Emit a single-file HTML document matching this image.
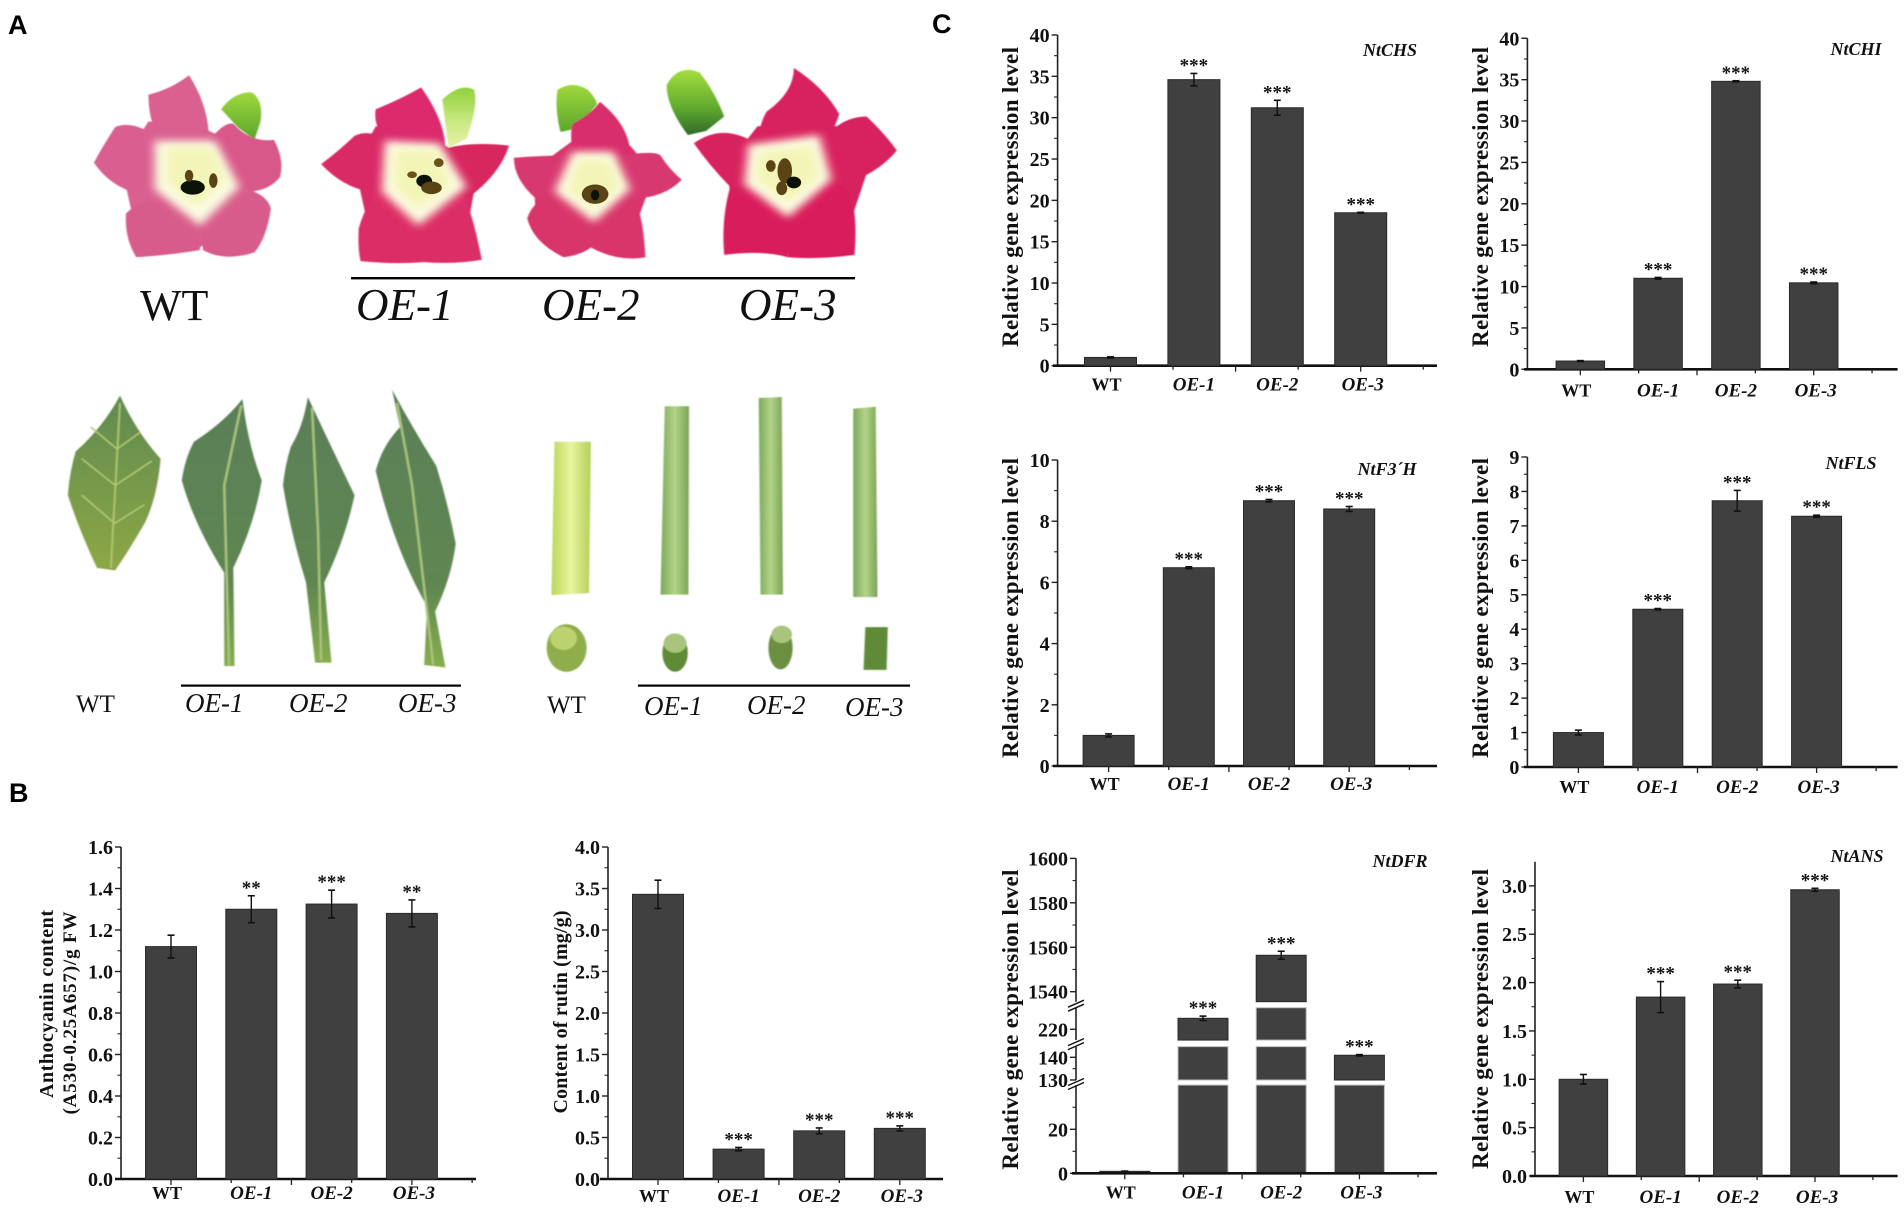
<!DOCTYPE html>
<html lang="en">
<head>
<meta charset="utf-8">
<title>Flower, leaf and stem phenotypes with flavonoid gene expression</title>
<style>
html,body{margin:0;padding:0;background:#fff;width:1904px;height:1208px;overflow:hidden}
svg{display:block}
text{font-family:"Liberation Serif",serif;fill:#111}
.panel{font-family:"Liberation Sans",sans-serif;font-weight:700;font-size:27px;fill:#000}
</style>
</head>
<body>
<svg id="figure" xmlns="http://www.w3.org/2000/svg" width="1904" height="1208" viewBox="0 0 1904 1208">
<defs>
<filter id="soft" x="-10%" y="-10%" width="120%" height="120%"><feGaussianBlur stdDeviation="1.2"/></filter>
<filter id="soft2" x="-30%" y="-30%" width="160%" height="160%"><feGaussianBlur stdDeviation="8"/></filter>
<linearGradient id="sepal" x1="0" y1="0" x2="0" y2="1"><stop offset="0" stop-color="#9fd83c"/><stop offset="1" stop-color="#5aa62c"/></linearGradient>
<linearGradient id="sepalpale" x1="0" y1="0" x2="0" y2="1"><stop offset="0" stop-color="#8fd03a"/><stop offset=".55" stop-color="#c8e880"/><stop offset="1" stop-color="#e8f2a8"/></linearGradient>
<linearGradient id="sepaldark" x1="0" y1="0" x2="0" y2="1"><stop offset="0" stop-color="#a4de3c"/><stop offset=".6" stop-color="#5ea82e"/><stop offset="1" stop-color="#2f6a2a"/></linearGradient>
<linearGradient id="leafwt" x1="0" y1="0" x2="0" y2="1"><stop offset="0" stop-color="#5f8a52"/><stop offset="1" stop-color="#8ca743"/></linearGradient>
<linearGradient id="leafoe" x1="0" y1="0" x2="0" y2="1"><stop offset="0" stop-color="#5a7f58"/><stop offset=".7" stop-color="#5f8651"/><stop offset="1" stop-color="#86ad4e"/></linearGradient>
<linearGradient id="stemoe" x1="0" y1="0" x2="1" y2="0"><stop offset="0" stop-color="#7da85a"/><stop offset=".5" stop-color="#b3d488"/><stop offset="1" stop-color="#7ba354"/></linearGradient>
<linearGradient id="stemwt" x1="0" y1="0" x2="1" y2="0"><stop offset="0" stop-color="#bcd65a"/><stop offset=".5" stop-color="#e9f5a0"/><stop offset="1" stop-color="#b4cf55"/></linearGradient>
</defs>

<text class="panel" x="8" y="34">A</text>
<text class="panel" x="9" y="802">B</text>
<text class="panel" x="932" y="33">C</text>

<g transform="scale(0.606,0.4854)">
  <g>
    <g filter="url(#soft)">
      <path d="M365 225Q385 190 415 190Q435 205 430 250L420 288L392 262Z" fill="url(#sepal)"/>
      <path d="M245 250L345 270L400 300L420 420L330 510L225 480L200 340Z" fill="#d9608f"/>
      <path d="M312 155Q345 220 345 290L270 300Q245 260 245 195Q280 185 312 155Z" fill="#d9608f"/>
      <path d="M270 290Q220 245 190 262Q170 300 155 335Q190 400 260 405Z" fill="#d95f90"/>
      <path d="M345 290Q370 250 385 255Q415 295 452 288Q470 330 462 365Q440 400 390 395Z" fill="#d9588a"/>
      <path d="M275 410Q230 410 208 440Q205 490 225 530Q285 525 330 515L330 465Z" fill="#d85c8b"/>
      <path d="M330 465L390 385Q440 395 447 430Q440 490 420 520Q370 540 335 515Z" fill="#d85c8b"/>
    </g>
    <path d="M255 290L355 290L395 385L330 465L255 390Z" fill="#fbfbe0" filter="url(#soft2)"/>
    <path d="M275 305L350 305L372 370L325 425L275 375Z" fill="#f3f5b8" filter="url(#soft2)"/>
    <ellipse cx="318" cy="386" rx="20" ry="15" fill="#0c1208"/>
    <ellipse cx="312" cy="362" rx="7" ry="12" fill="#5a4416"/>
    <ellipse cx="352" cy="372" rx="7" ry="15" fill="#5a4416"/>
  </g>
  <g>
    <g filter="url(#soft)">
      <path d="M730 205Q760 170 782 185Q790 215 770 285L740 305Z" fill="url(#sepalpale)"/>
      <path d="M620 260L735 300L790 340L770 480L700 535L610 480L585 340Z" fill="#da2a66"/>
      <path d="M695 180Q735 250 735 310L640 295Q615 260 620 225Q660 205 695 180Z" fill="#dc2c6c"/>
      <path d="M640 290Q610 265 585 280Q560 310 530 338Q565 385 610 395L640 370Z" fill="#d92a66"/>
      <path d="M725 310Q770 290 840 300Q825 360 770 410L745 360Z" fill="#d8265f"/>
      <path d="M640 390Q610 395 592 470Q590 510 595 538Q650 545 700 540L690 465Z" fill="#dc2e66"/>
      <path d="M690 465L760 400Q775 410 795 535Q750 545 700 540Z" fill="#dc2e66"/>
    </g>
    <path d="M635 290L725 295L770 385L690 465L630 395Z" fill="#fbfbe0" filter="url(#soft2)"/>
    <path d="M650 310L720 310L745 380L690 430L650 385Z" fill="#f3f5b8" filter="url(#soft2)"/>
    <ellipse cx="700" cy="373" rx="13" ry="13" fill="#0c1208"/>
    <ellipse cx="712" cy="387" rx="17" ry="13" fill="#5a4416"/>
    <ellipse cx="680" cy="360" rx="8" ry="7" fill="#6a5218"/>
    <ellipse cx="724" cy="335" rx="8" ry="9" fill="#6a5218"/>
  </g>
  <g>
    <g filter="url(#soft)">
      <path d="M920 185Q945 165 970 185Q985 205 985 215L950 265L925 272Q915 225 920 185Z" fill="url(#sepal)"/>
      <path d="M945 290L1040 300L1080 360L1050 460L975 505L885 470L880 350Z" fill="#d8346c"/>
      <path d="M990 210Q1040 260 1040 320L945 320Q940 270 945 255Q975 235 990 210Z" fill="#d82f6c"/>
      <path d="M945 320Q895 320 848 325Q848 370 885 410L925 395Z" fill="#d8386f"/>
      <path d="M1030 320Q1080 310 1090 320Q1105 350 1125 370Q1095 410 1035 410L1035 370Z" fill="#d8386f"/>
      <path d="M920 395Q880 410 870 450Q880 500 930 530Q960 525 975 510L980 455Z" fill="#d8346a"/>
      <path d="M980 455L1035 400Q1060 410 1065 530Q1020 540 975 510Z" fill="#d8346a"/>
    </g>
    <path d="M945 312L1012 312L1040 390L980 458L915 395Z" fill="#fbfbe0" filter="url(#soft2)"/>
    <path d="M955 330L1005 330L1022 385L980 430L935 390Z" fill="#f3f5b8" filter="url(#soft2)"/>
    <ellipse cx="982" cy="400" rx="22" ry="20" fill="#5a4416"/>
    <ellipse cx="982" cy="402" rx="7" ry="11" fill="#0c1208"/>
  </g>
  <g>
    <g filter="url(#soft)">
      <path d="M1100 175Q1120 130 1155 150Q1180 190 1195 240L1165 270L1135 278Q1100 220 1100 175Z" fill="url(#sepaldark)"/>
      <path d="M1250 260L1385 260L1440 320L1400 470L1300 520L1210 470L1200 340Z" fill="#d8225e"/>
      <path d="M1310 140Q1360 180 1385 235L1370 285L1250 290Q1255 250 1265 230Q1310 190 1310 140Z" fill="#d8245f"/>
      <path d="M1240 290Q1190 255 1145 295Q1170 340 1205 385L1240 370Z" fill="#d8245f"/>
      <path d="M1360 285Q1390 240 1430 240Q1460 275 1480 310Q1440 370 1370 385Z" fill="#d8245f"/>
      <path d="M1235 385L1205 385Q1190 450 1195 525Q1260 515 1300 530L1300 445Z" fill="#d91f5c"/>
      <path d="M1300 445L1370 380Q1420 370 1410 525Q1350 535 1300 530Z" fill="#d91f5c"/>
    </g>
    <path d="M1235 298L1352 278L1372 370L1300 448L1228 380Z" fill="#fbfbe0" filter="url(#soft2)"/>
    <path d="M1250 315L1340 300L1352 365L1300 415L1248 370Z" fill="#f3f5b8" filter="url(#soft2)"/>
    <ellipse cx="1295" cy="352" rx="12" ry="26" fill="#5a4416"/>
    <ellipse cx="1272" cy="342" rx="8" ry="12" fill="#5a4416"/>
    <ellipse cx="1290" cy="388" rx="9" ry="14" fill="#5a4416"/>
    <circle cx="1310" cy="376" r="12" fill="#0c1208"/>
  </g>

  <g filter="url(#soft)">
    <path d="M198 815Q225 890 265 945Q260 1020 240 1075Q215 1130 190 1175L160 1170Q130 1090 112 1020Q115 970 125 930Q170 880 198 815Z" fill="url(#leafwt)"/>
    <path d="M198 830L183 1170M193 925L150 880M190 1000L135 945M186 1075L135 1020M193 925L232 890M190 1000L250 950M187 1080L238 1040" stroke="#b0c870" stroke-width="3" fill="none"/>
  </g>
  <g filter="url(#soft)">
    <path d="M400 822Q410 920 432 990Q420 1080 385 1170L387 1372L370 1372L370 1180Q320 1080 300 990Q305 945 320 910Q370 870 400 822Z" fill="url(#leafoe)"/>
    <path d="M398 835L370 1000L378 1370" stroke="#a8c47a" stroke-width="4" fill="none"/>
  </g>
  <g filter="url(#soft)">
    <path d="M508 818Q550 930 585 1020Q570 1110 535 1200L547 1365L520 1365L505 1200Q480 1100 467 1000Q470 960 480 920Q500 880 508 818Z" fill="url(#leafoe)"/>
    <path d="M515 840L525 1100L530 1360" stroke="#a8c47a" stroke-width="4" fill="none"/>
  </g>
  <g filter="url(#soft)">
    <path d="M647 803Q680 880 720 960Q740 1040 752 1120Q745 1190 718 1260L735 1375L700 1370L705 1250Q650 1130 620 970Q630 920 660 880Z" fill="url(#leafoe)"/>
    <path d="M655 830L680 1000L715 1370" stroke="#a8c47a" stroke-width="4" fill="none"/>
  </g>

  <g filter="url(#soft)">
    <path d="M915 910L975 910L972 1222L910 1226Z" fill="url(#stemwt)"/>
    <ellipse cx="935" cy="1335" rx="33" ry="49" fill="#8fae4c"/>
    <ellipse cx="930" cy="1315" rx="22" ry="24" fill="#bcd26c"/>
  </g>
  <g filter="url(#soft)">
    <path d="M1097 837L1137 837L1136 1225L1090 1225Z" fill="url(#stemoe)"/>
    <ellipse cx="1114" cy="1345" rx="21" ry="39" fill="#5f8b35"/>
    <ellipse cx="1114" cy="1325" rx="19" ry="20" fill="#a9c57d"/>
  </g>
  <g filter="url(#soft)">
    <path d="M1252 820L1290 818L1292 1225L1255 1225Z" fill="url(#stemoe)"/>
    <ellipse cx="1288" cy="1335" rx="20" ry="44" fill="#6a8f3f"/>
    <ellipse cx="1290" cy="1307" rx="17" ry="18" fill="#a9c57d"/>
  </g>
  <g filter="url(#soft)">
    <path d="M1408 842L1445 838L1448 1230L1408 1230Z" fill="url(#stemoe)"/>
    <path d="M1428 1292L1465 1292L1463 1380L1425 1380Z" fill="#5e8a38"/>
  </g>
</g>

<rect x="351" y="277" width="504" height="2.4" fill="#000"/>
<text x="140" y="320" font-size="44">WT</text>
<text x="356" y="320" font-size="45" font-style="italic">OE-1</text>
<text x="542" y="320" font-size="45" font-style="italic">OE-2</text>
<text x="739" y="320" font-size="45" font-style="italic">OE-3</text>

<rect x="181" y="684.5" width="280" height="2.2" fill="#000"/>
<text x="76" y="712" font-size="25">WT</text>
<text x="185" y="712" font-size="27" font-style="italic">OE-1</text>
<text x="289" y="712" font-size="27" font-style="italic">OE-2</text>
<text x="398" y="712" font-size="27" font-style="italic">OE-3</text>

<rect x="638" y="684.5" width="272" height="2.2" fill="#000"/>
<text x="547" y="713" font-size="25">WT</text>
<text x="644" y="715" font-size="27" font-style="italic">OE-1</text>
<text x="747" y="714" font-size="27" font-style="italic">OE-2</text>
<text x="845" y="716" font-size="27" font-style="italic">OE-3</text>

<g id="charts"></g>
</svg>

<script>
const categories = ['WT', 'OE-1', 'OE-2', 'OE-3'];

const anthoValues = [1.12, 1.30, 1.325, 1.28];
const anthoErrors = [0.055, 0.065, 0.067, 0.065];
const anthoStars = ['', '**', '***', '**'];
const anthoTicks = ['0.0', '0.2', '0.4', '0.6', '0.8', '1.0', '1.2', '1.4', '1.6'];

const rutinValues = [3.43, 0.36, 0.58, 0.61];
const rutinErrors = [0.17, 0.02, 0.035, 0.03];
const rutinStars = ['', '***', '***', '***'];
const rutinTicks = ['0.0', '0.5', '1.0', '1.5', '2.0', '2.5', '3.0', '3.5', '4.0'];

const chsValues = [1.0, 34.6, 31.2, 18.5];
const chsErrors = [0.07, 0.75, 0.9, 0.05];
const chsStars = ['', '***', '***', '***'];
const chsTicks = ['0', '5', '10', '15', '20', '25', '30', '35', '40'];

const chiValues = [1.0, 11.0, 34.8, 10.45];
const chiErrors = [0.05, 0.1, 0.07, 0.1];
const chiStars = ['', '***', '***', '***'];
const chiTicks = ['0', '5', '10', '15', '20', '25', '30', '35', '40'];

const f3hValues = [1.0, 6.48, 8.67, 8.4];
const f3hErrors = [0.05, 0.03, 0.04, 0.08];
const f3hStars = ['', '***', '***', '***'];
const f3hTicks = ['0', '2', '4', '6', '8', '10'];

const flsValues = [1.0, 4.58, 7.73, 7.28];
const flsErrors = [0.07, 0.02, 0.3, 0.03];
const flsStars = ['', '***', '***', '***'];
const flsTicks = ['0', '1', '2', '3', '4', '5', '6', '7', '8', '9'];

const ansValues = [1.0, 1.85, 1.985, 2.96];
const ansErrors = [0.05, 0.16, 0.04, 0.015];
const ansStars = ['', '***', '***', '***'];
const ansTicks = ['0.0', '0.5', '1.0', '1.5', '2.0', '2.5', '3.0'];

const dfrValues = [0.9, 225, 1556.4, 140.9];
const dfrErrors = [0.1, 1, 1.8, 0.3];
const dfrStars = ['', '***', '***', '***'];
const dfrTicks = ['0', '20', '130', '140', '220', '1540', '1560', '1580', '1600'];
const dfrMinorTicks = [10, 30, 135, 1550, 1570, 1590];
const dfrSegments = [[0, 40.1], [130, 144.7], [215.1, 229.8], [1535.5, 1600]];

const NS = 'http://www.w3.org/2000/svg';
const root = document.getElementById('charts');

function make(tag, attrs, parent, name) {
  const el = document.createElementNS(NS, tag);
  for (const k in attrs) el.setAttribute(k, attrs[k]);
  
  
  parent.appendChild(el);
  return el;
}
function line(p, x1, y1, x2, y2, w, name, col) {
  return make('line', {x1: x1, y1: y1, x2: x2, y2: y2, stroke: col || '#222', 'stroke-width': w}, p, name);
}
function label(p, s, x, y, size, opts, name) {
  const a = Object.assign({x: x, y: y, 'font-size': size}, opts || {});
  const t = make('text', a, p, name);
  t.textContent = s;
  return t;
}
function slug(s) { return s.toLowerCase().replace(/[^a-z0-9]+/g, '-'); }

function xAxis(g, c) {
  const xOf = i => c.x0 + i * c.step;
  line(g, c.baseStart, c.yBottom, c.baseEnd, c.yBottom, 2.6, 'x-axis-line', '#111');
  for (let k = 0; k * 0.75 * c.step + c.x0 < c.baseEnd - 2; k++) {
    const tx = c.x0 + k * 0.75 * c.step;
    line(g, tx, c.yBottom, tx, c.yBottom + (k % 2 ? 4 : 6), 1.3, 'x-tick');
  }
  categories.forEach((cat, i) => {
    const dx = i === 0 ? -4 : (i === 3 ? 2 : 0);
    label(g, cat, xOf(i) + dx, c.yBottom + 27 + (c.labelDy || 0), i === 0 ? 18 : 19,
      {'text-anchor': 'middle', 'font-weight': 700, 'font-style': i === 0 ? 'normal' : 'italic'},
      'x-label-' + slug(cat));
  });
  return xOf;
}

function marks(g, c, xOf, yOf) {
  c.values.forEach((v, i) => {
    const cx = xOf(i), top = yOf(v + c.errors[i]), low = yOf(v - c.errors[i]);
    if (!c.noBars) {
      make('rect', {x: cx - c.barW / 2, y: yOf(v), width: c.barW, height: c.yBottom - yOf(v),
        fill: '#404040', stroke: '#2a2a2a', 'stroke-width': 1}, g, 'bar-' + slug(categories[i]));
    }
    line(g, cx, top, cx, low, 1.4, 'error-bar-' + slug(categories[i]), '#111');
    line(g, cx - 3.5, top, cx + 3.5, top, 1.6, 'error-cap-top', '#111');
    line(g, cx - 3.5, low, cx + 3.5, low, 1.6, 'error-cap-bottom', '#111');
    if (c.stars[i]) {
      label(g, c.stars[i], cx, top - 2, 19, {'text-anchor': 'middle', 'font-weight': 700}, 'significance-' + slug(categories[i]));
    }
  });
}

function yTitle(g, s, x, cy, len, size, name) {
  const t = label(g, s, x, cy, size,
    {'text-anchor': 'middle', 'font-weight': 700, transform: 'rotate(-90 ' + x + ' ' + cy + ')',
     textLength: len, lengthAdjust: 'spacing'}, name);
  return t;
}

function barChart(c) {
  const g = make('g', {}, root, 'chart-' + c.id);
  const yOf = v => c.yBottom - (v / c.maxV) * (c.yBottom - c.yTop);
  line(g, c.axisX, c.yTop, c.axisX, c.yBottom, 1.6, 'y-axis-line');
  c.ticks.forEach((s, i) => {
    const v = parseFloat(s), y = yOf(v);
    line(g, c.axisX - 6, y, c.axisX, y, 1.4, 'y-tick');
    label(g, s, c.axisX - 8, y + 7, 20, {'text-anchor': 'end', 'font-weight': 700}, 'y-tick-label-' + slug(s));
    if (i < c.ticks.length - 1) {
      const m = yOf((v + parseFloat(c.ticks[i + 1])) / 2);
      line(g, c.axisX - 3.5, m, c.axisX, m, 1.1, 'y-minor-tick');
    }
  });
  const xOf = xAxis(g, c);
  marks(g, c, xOf, yOf);
  if (c.gene) {
    label(g, c.gene, c.geneX, c.geneY, 18, {'text-anchor': 'middle', 'font-weight': 700, 'font-style': 'italic'}, 'gene-name-' + c.id);
    yTitle(g, 'Relative gene expression level', c.titleX, c.titleCy, 300, 23, 'y-axis-title');
  }
  return g;
}

/* broken-axis scale for the NtDFR panel */
function dfrY(v) {
  if (v <= 41) return 1173.3 - 2.2 * v;
  if (v <= 150) return 1080 - 2.27 * (v - 130);
  if (v <= 300) return 1029.3 - 2.2 * (v - 220);
  return 991.7 - 2.222 * (v - 1540);
}

function dfrChart() {
  const c = {id: 'ntdfr', axisX: 1076, yBottom: 1173.3, baseStart: 1072, baseEnd: 1437, x0: 1124.8, step: 78.2,
    barW: 50, values: dfrValues, errors: dfrErrors, stars: dfrStars, noBars: true, labelDy: -2};
  const g = make('g', {}, root, 'chart-' + c.id);
  const xOf = i => c.x0 + i * c.step;
  dfrSegments.forEach((seg, s) => {
    line(g, c.axisX, dfrY(seg[0]), c.axisX, dfrY(seg[1]), 1.6, 'y-axis-segment');
    if (s > 0) {
      const by = dfrY(seg[0]) + 3.5;
      line(g, c.axisX - 8, by + 2, c.axisX + 8, by - 5, 1.4, 'axis-break-mark', '#111');
      line(g, c.axisX - 8, by + 6, c.axisX + 8, by - 1, 1.4, 'axis-break-mark', '#111');
    }
    dfrValues.forEach((v, i) => {
      if (v <= seg[0]) return;
      const t = Math.min(v, seg[1]);
      const yTop = dfrY(t), yLow = dfrY(seg[0]);
      make('rect', {x: xOf(i) - c.barW / 2, y: yTop, width: c.barW, height: yLow - yTop,
        fill: '#404040', stroke: t < seg[1] ? '#2a2a2a' : '#bdbdbd', 'stroke-width': 1}, g, 'bar-segment-' + slug(categories[i]));
    });
  });
  dfrTicks.forEach(s => {
    const y = dfrY(parseFloat(s));
    line(g, c.axisX - 6, y, c.axisX, y, 1.4, 'y-tick');
    label(g, s, c.axisX - 8, y + 7, 20, {'text-anchor': 'end', 'font-weight': 700}, 'y-tick-label-' + slug(s));
  });
  dfrMinorTicks.forEach(v => {
    const y = dfrY(v);
    line(g, c.axisX - 3.5, y, c.axisX, y, 1.1, 'y-minor-tick');
  });
  xAxis(g, c);
  marks(g, c, xOf, dfrY);
  label(g, 'NtDFR', 1400, 867, 18, {'text-anchor': 'middle', 'font-weight': 700, 'font-style': 'italic'}, 'gene-name-ntdfr');
  yTitle(g, 'Relative gene expression level', 1018, 1019.6, 300, 23, 'y-axis-title');
}

const anthoChart = barChart({id: 'anthocyanin', axisX: 121, yTop: 847, yBottom: 1179, maxV: 1.6, baseStart: 115, baseEnd: 476,
  x0: 171, step: 80.3, barW: 51, ticks: anthoTicks, values: anthoValues, errors: anthoErrors, stars: anthoStars, labelDy: -7});
yTitle(anthoChart, 'Anthocyanin content', 53, 1004, 188, 20, 'y-axis-title-line-1');
yTitle(anthoChart, '(A530-0.25A657)/g  FW', 76, 1013, 203, 19, 'y-axis-title-line-2');

const rutinChart = barChart({id: 'rutin', axisX: 608, yTop: 847, yBottom: 1179, maxV: 4, baseStart: 600, baseEnd: 943,
  x0: 658, step: 80.6, barW: 51, ticks: rutinTicks, values: rutinValues, errors: rutinErrors, stars: rutinStars, labelDy: -4});
yTitle(rutinChart, 'Content of rutin (mg/g)', 567, 1012, 203, 20, 'y-axis-title');

barChart({id: 'ntchs', axisX: 1057.6, yTop: 35, yBottom: 365.7, maxV: 40, baseStart: 1053, baseEnd: 1437,
  x0: 1110.5, step: 83.4, barW: 52, ticks: chsTicks, values: chsValues, errors: chsErrors, stars: chsStars, labelDy: -2,
  gene: 'NtCHS', geneX: 1390, geneY: 56, titleX: 1018, titleCy: 197});

barChart({id: 'ntchi', axisX: 1527.4, yTop: 38.3, yBottom: 369.3, maxV: 40, baseStart: 1524, baseEnd: 1897.6,
  x0: 1580.3, step: 77.8, barW: 48.5, ticks: chiTicks, values: chiValues, errors: chiErrors, stars: chiStars,
  gene: 'NtCHI', geneX: 1856, geneY: 55, titleX: 1488, titleCy: 197});

barChart({id: 'ntf3h', axisX: 1057.6, yTop: 460, yBottom: 766, maxV: 10, baseStart: 1053, baseEnd: 1437,
  x0: 1108.6, step: 80.2, barW: 51, ticks: f3hTicks, values: f3hValues, errors: f3hErrors, stars: f3hStars, labelDy: -3,
  gene: 'NtF3\u00B4H', geneX: 1387, geneY: 475, titleX: 1018, titleCy: 608});

barChart({id: 'ntfls', axisX: 1527.4, yTop: 457, yBottom: 767, maxV: 9, baseStart: 1524, baseEnd: 1897.6,
  x0: 1578.4, step: 79.4, barW: 50, ticks: flsTicks, values: flsValues, errors: flsErrors, stars: flsStars, labelDy: -1,
  gene: 'NtFLS', geneX: 1851, geneY: 469, titleX: 1488, titleCy: 608});

dfrChart();

barChart({id: 'ntans', axisX: 1535, yTop: 861.7, yBottom: 1176, maxV: 3.25, baseStart: 1530, baseEnd: 1897.6,
  x0: 1583.4, step: 77.2, barW: 48.5, ticks: ansTicks, values: ansValues, errors: ansErrors, stars: ansStars,
  gene: 'NtANS', geneX: 1857, geneY: 862, titleX: 1488, titleCy: 1019});
</script>
</body>
</html>
